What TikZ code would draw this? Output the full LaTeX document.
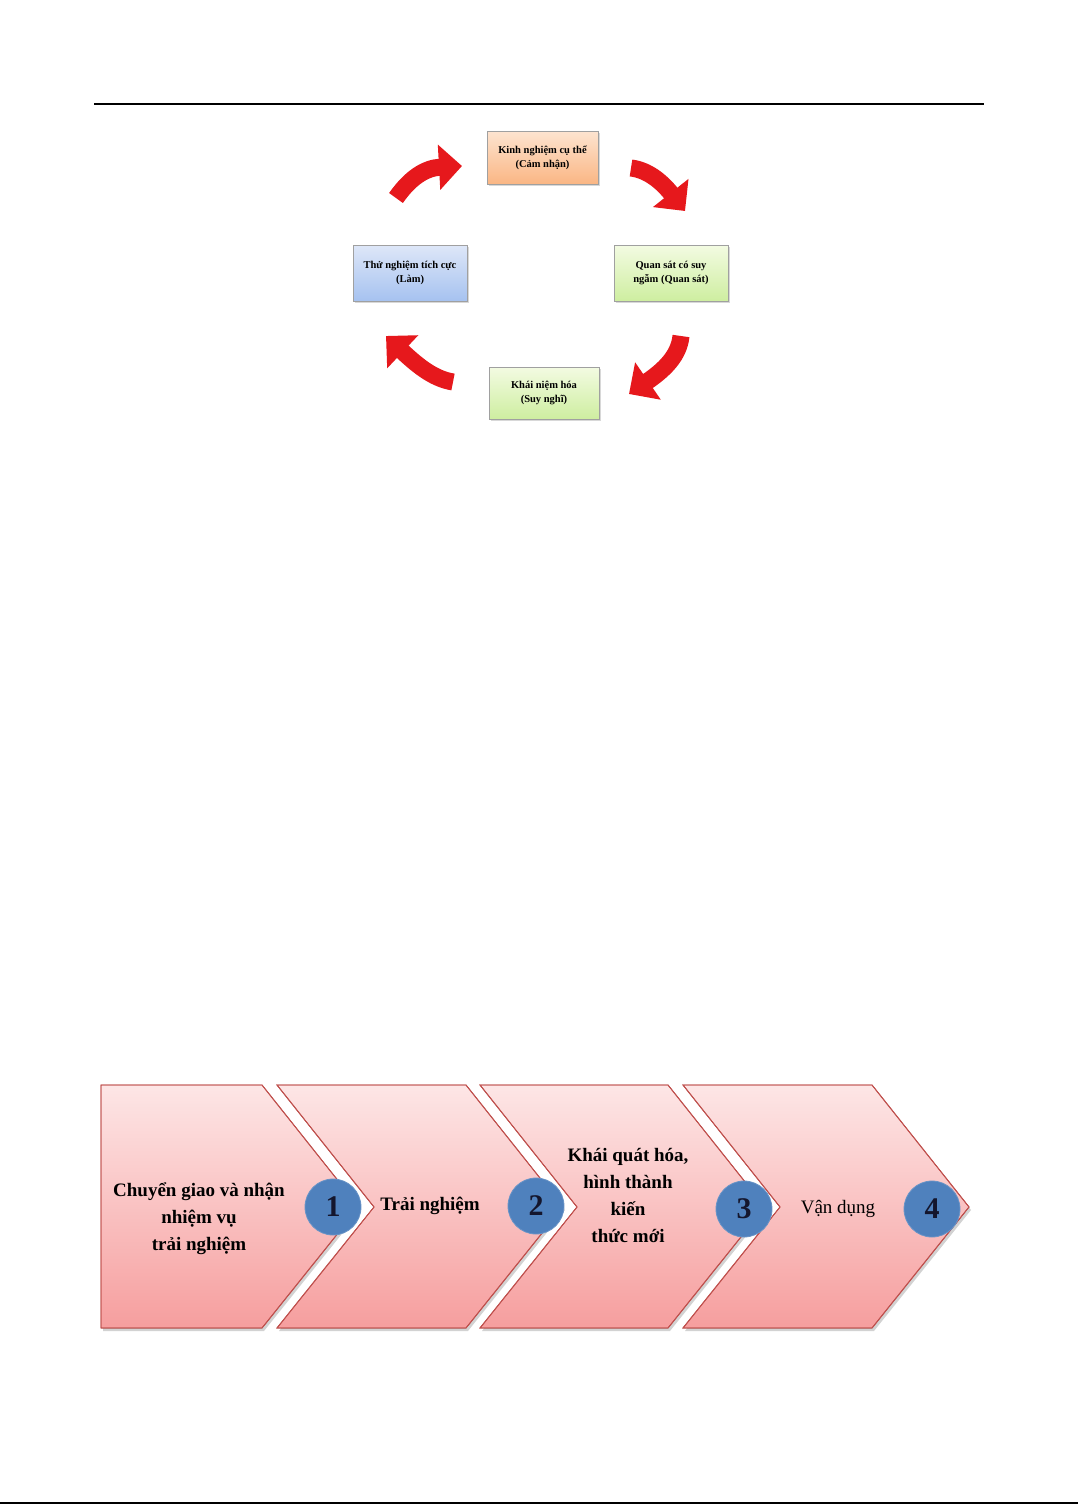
\documentclass[tikz,border=0pt]{standalone}
\usepackage{fontspec}
\setmainfont{Liberation Serif}
\usetikzlibrary{arrows.meta,shadows}
\definecolor{arrowred}{RGB}{230,24,28}
\definecolor{orgtop}{RGB}{253,228,208}
\definecolor{orgbot}{RGB}{250,182,132}
\definecolor{blutop}{RGB}{222,231,248}
\definecolor{blubot}{RGB}{166,194,240}
\definecolor{grntop}{RGB}{243,251,226}
\definecolor{grnbot}{RGB}{206,238,160}
\definecolor{boxline}{RGB}{160,160,160}
\definecolor{chevtop}{RGB}{253,230,230}
\definecolor{chevbot}{RGB}{246,158,158}
\definecolor{chevline}{RGB}{192,80,77}
\definecolor{circblue}{RGB}{79,129,189}
\definecolor{numtext}{RGB}{20,22,45}
\tikzset{
  kolbbox/.style={draw=boxline, line width=0.6pt, align=center, inner sep=2pt,
    font=\bfseries\fontsize{10.5}{14}\selectfont,
    drop shadow={shadow xshift=1.5pt, shadow yshift=-1.5pt, opacity=0.3}},
  kolbarrow/.style={draw=arrowred, line width=17pt, -{Triangle[length=23pt,width=44pt]}},
  chevron/.style={draw=chevline, line width=0.9pt, top color=chevtop, bottom color=chevbot,
    drop shadow={shadow xshift=2pt, shadow yshift=-3pt, opacity=0.35}},
  chevtext/.style={align=center, font=\bfseries\fontsize{19}{27}\selectfont, text=black},
  numcirc/.style={circle, fill=circblue, draw=circblue!85!white, line width=0.8pt,
    minimum size=56pt, inner sep=0pt, font=\bfseries\fontsize{30}{30}\selectfont, text=numtext}
}
\begin{document}
\begin{tikzpicture}[x=1pt,y=-1pt]
\useasboundingbox (0,0) rectangle (1078,1504);
\fill[white] (0,0) rectangle (1078,1504);
% header rule
\coordinate (hl) at (94,103.5);
\coordinate (hr) at (984,103.5);
\draw[line width=2pt] (hl) -- (hr);
% bottom edge line
\coordinate (bl) at (0,1503);
\coordinate (br) at (1078,1503);
\draw[line width=1.5pt] (bl) -- (br);

% Kolb cycle boxes
\node[kolbbox, top color=orgtop, bottom color=orgbot, minimum width=111pt, minimum height=53pt]
  (kinh) at (542.5,157.5) {Kinh nghiệm cụ thể\\(Cảm nhận)};
\node[kolbbox, top color=grntop, bottom color=grnbot, minimum width=114pt, minimum height=56pt]
  (quan) at (671,273) {Quan sát có suy\\ngẫm (Quan sát)};
\node[kolbbox, top color=grntop, bottom color=grnbot, minimum width=110pt, minimum height=52pt]
  (khai) at (544,393) {Khái niệm hóa\\(Suy nghĩ)};
\node[kolbbox, top color=blutop, bottom color=blubot, minimum width=114pt, minimum height=56pt]
  (thu) at (410,273) {Thử nghiệm tích cực\\(Làm)};

% curved red arrows
\coordinate (a1s) at (396,198);  \coordinate (a1e) at (462,166);
\coordinate (a2s) at (631,168);  \coordinate (a2e) at (685,211);
\coordinate (a3s) at (681,336);  \coordinate (a3e) at (629,394);
\coordinate (a4s) at (453,382);  \coordinate (a4e) at (386,336);
\draw[kolbarrow] (a1s) .. controls (410,178) and (425,168) .. (a1e);
\draw[kolbarrow] (a2s) .. controls (648,170) and (662,182) .. (a2e);
\draw[kolbarrow] (a3s) .. controls (679,356) and (664,370) .. (a3e);
\draw[kolbarrow] (a4s) .. controls (435,379) and (420,368) .. (a4e);

% chevrons
\fill[chevron] (101,1085) -- (262,1085) -- (359,1207) -- (262,1328) -- (101,1328) -- cycle;
\fill[chevron] (277,1085) -- (466,1085) -- (563,1207) -- (466,1328) -- (277,1328) -- (374,1207) -- cycle;
\fill[chevron] (480,1085) -- (668,1085) -- (765,1207) -- (668,1328) -- (480,1328) -- (577,1207) -- cycle;
\fill[chevron] (683,1085) -- (872,1085) -- (969,1207) -- (872,1328) -- (683,1328) -- (780,1207) -- cycle;
\draw[chevline, line width=0.9pt] (101,1085) -- (262,1085) -- (359,1207) -- (262,1328) -- (101,1328) -- cycle;
\draw[chevline, line width=0.9pt] (277,1085) -- (466,1085) -- (563,1207) -- (466,1328) -- (277,1328) -- (374,1207) -- cycle;
\draw[chevline, line width=0.9pt] (480,1085) -- (668,1085) -- (765,1207) -- (668,1328) -- (480,1328) -- (577,1207) -- cycle;
\draw[chevline, line width=0.9pt] (683,1085) -- (872,1085) -- (969,1207) -- (872,1328) -- (683,1328) -- (780,1207) -- cycle;

% chevron texts
\node[chevtext] (t1) at (199,1219) {Chuyển giao và nhận\\nhiệm vụ\\trải nghiệm};
\node[chevtext] (t2) at (430,1206) {Trải nghiệm};
\node[chevtext] (t3) at (628,1195) {Khái quát hóa,\\hình thành\\kiến\\thức mới};
\node[chevtext, font=\fontsize{19}{27}\selectfont, text=black] (t4) at (838,1209) {Vận dụng};

% number circles
\node[numcirc] (n1) at (333,1207) {1};
\node[numcirc] (n2) at (536,1206) {2};
\node[numcirc] (n3) at (744,1209) {3};
\node[numcirc] (n4) at (932,1209) {4};
\end{tikzpicture}
\end{document}
